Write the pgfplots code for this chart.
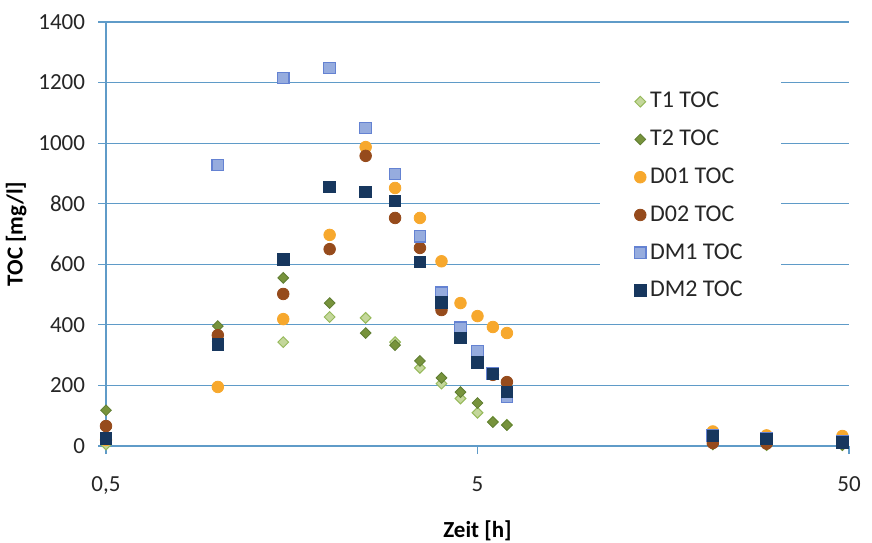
\documentclass[border=0pt]{standalone}
\usepackage{pgfplots}
\pgfplotsset{compat=1.18}
\usepackage{fontspec}
\setmainfont{Carlito}
\definecolor{gridblue}{RGB}{95,155,200}
\definecolor{tonefill}{RGB}{196,215,155}
\definecolor{toneedge}{RGB}{150,185,90}
\definecolor{ttwo}{RGB}{119,147,60}
\definecolor{ttwoedge}{RGB}{95,125,50}
\definecolor{dzone}{RGB}{247,168,45}
\definecolor{dztwo}{RGB}{150,75,28}
\definecolor{dmone}{RGB}{150,172,222}
\definecolor{dmoneedge}{RGB}{100,130,210}
\definecolor{dmtwo}{RGB}{23,55,94}
\begin{document}
\begin{tikzpicture}
\useasboundingbox (-53pt,-48pt) rectangle (383pt,223pt);
\begin{axis}[
  scale only axis,
  width=371.5pt, height=212pt,
  at={(0,0)}, anchor=south west,
  xmode=log, xmin=0.5, xmax=50,
  ymin=0, ymax=1400,
  xtick={0.5,5,50}, xticklabels={{0,5},5,50},
  xminorticks=false, yminorticks=false,
  ytick={0,200,...,1400},
  /pgf/number format/1000 sep={},
  axis x line=bottom, axis y line=left,
  xtick pos=bottom, ytick pos=left,
  axis line style={-, draw=gridblue, line width=0.6pt},
  ymajorgrids, xmajorgrids=false, grid style={draw=gridblue, line width=0.6pt},
  tick align=outside, major tick length=4pt,
  tick style={draw=gridblue, line width=0.6pt},
  /pgf/number format/assume math mode=true,
  tick label style={font=\fontsize{11.5}{13}\selectfont, text=black!85},
  xticklabel style={yshift=-8pt},
  yticklabel style={xshift=-3pt},
  xlabel={\textbf{Zeit [h]}}, ylabel={\textbf{TOC [mg/l]}},
  label style={font=\fontsize{11.5}{13}\selectfont},
  xlabel style={yshift=-6pt},
  ylabel style={yshift=-1pt},
  clip=false,
  legend style={draw=none, fill=white, at={(0.665,0.868)}, anchor=north west,
    font=\fontsize{12}{14}\selectfont, row sep=5.6pt, inner xsep=17pt, inner ysep=5pt,
    text=black!85},
  legend cell align=left,
  legend image code/.code={\draw[#1] plot coordinates {(0.12cm,0cm)};},
]
\addplot[only marks, mark=square*, mark size=1.9pt, mark options={rotate=45, fill=tonefill, draw=toneedge, line width=0.5pt}]
coordinates {(0.5,5) (1,345) (1.5,343) (2,426) (2.5,423) (3,343) (3.5,258) (4,206) (4.5,157) (5,110) (5.5,80) (6,70) (21.5,5) (30,3) (48,3)};
\addlegendentry{T1 TOC}
\addplot[only marks, mark=square*, mark size=1.9pt, mark options={rotate=45, fill=ttwo, draw=ttwoedge, line width=0.4pt}]
coordinates {(0.5,118) (1,396) (1.5,555) (2,472) (2.5,373) (3,333) (3.5,281) (4,225) (4.5,178) (5,142) (5.5,79) (6,69) (21.5,6) (30,4) (48,3)};
\addlegendentry{T2 TOC}
\addplot[only marks, mark=*, mark size=2.9pt, mark options={fill=dzone, draw=dzone}]
coordinates {(0.5,20) (1,195) (1.5,419) (2,697) (2.5,987) (3,852) (3.5,753) (4,610) (4.5,472) (5,429) (5.5,393) (6,373) (21.5,48) (30,35) (48,33)};
\addlegendentry{D01 TOC}
\addplot[only marks, mark=*, mark size=2.9pt, mark options={fill=dztwo, draw=dztwo}]
coordinates {(0.5,66) (1,366) (1.5,502) (2,650) (2.5,958) (3,753) (3.5,654) (4,449) (4.5,360) (5,280) (5.5,235) (6,211) (21.5,10) (30,8) (48,10)};
\addlegendentry{D02 TOC}
\addplot[only marks, mark=square*, mark size=2.9pt, mark options={fill=dmone, draw=dmoneedge, line width=0.6pt}]
coordinates {(0.5,25) (1,928) (1.5,1215) (2,1248) (2.5,1050) (3,898) (3.5,693) (4,506) (4.5,390) (5,314) (5.5,240) (6,162) (21.5,35) (30,25) (48,15)};
\addlegendentry{DM1 TOC}
\addplot[only marks, mark=square*, mark size=2.9pt, mark options={fill=dmtwo, draw=dmtwo}]
coordinates {(0.5,25) (1,335) (1.5,617) (2,855) (2.5,839) (3,809) (3.5,608) (4,474) (4.5,357) (5,277) (5.5,238) (6,178) (21.5,33) (30,23) (48,12)};
\addlegendentry{DM2 TOC}
\end{axis}
\end{tikzpicture}
\end{document}
